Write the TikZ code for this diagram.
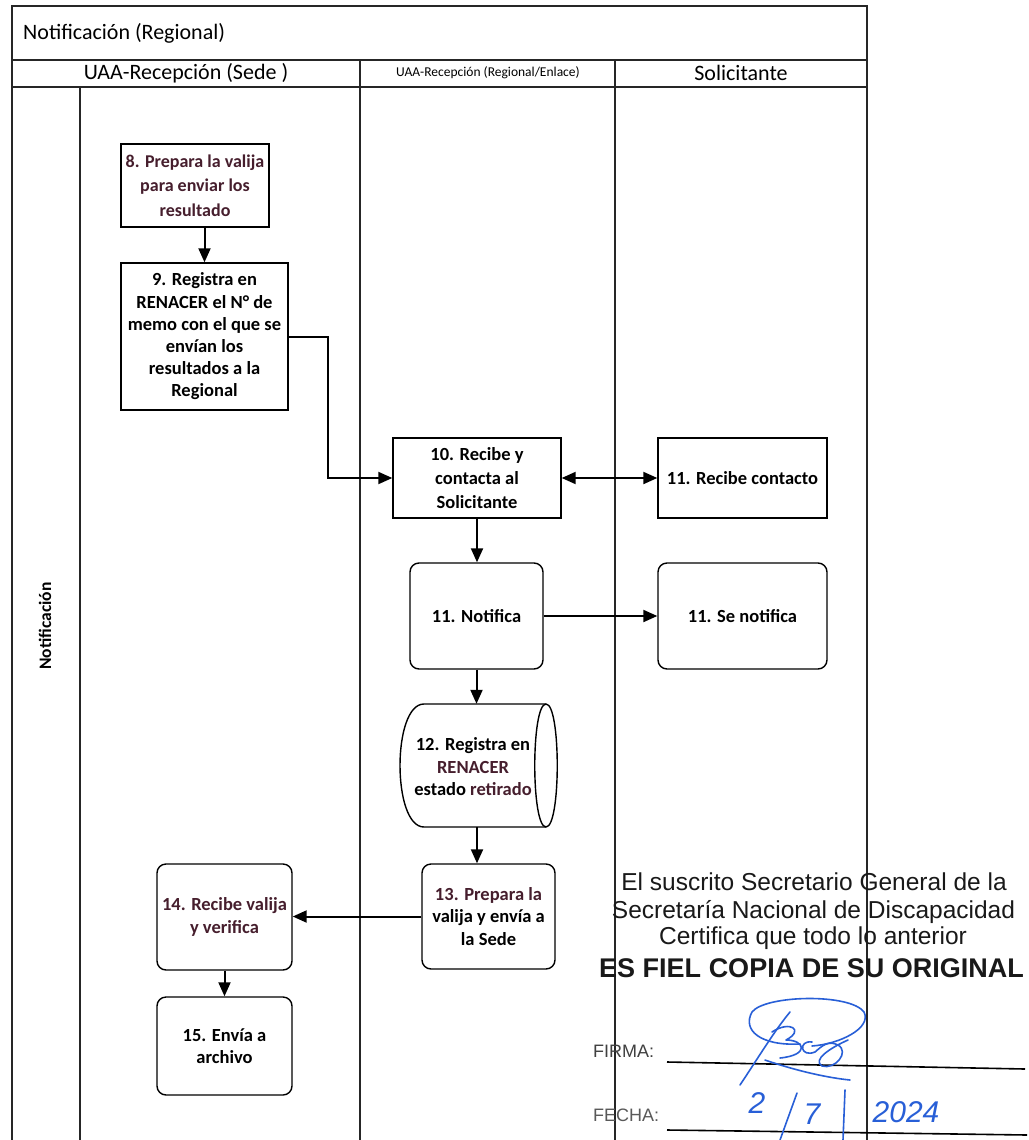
\documentclass[tikz,border=0pt]{standalone}
\usepackage{fontspec}
\setmainfont{Carlito}
\newfontfamily\arialf{Liberation Sans}
\usetikzlibrary{arrows.meta,calc}
\definecolor{mar}{RGB}{70,30,45}
\definecolor{sigblue}{RGB}{40,95,215}
\definecolor{stampgray}{RGB}{25,25,25}
\begin{document}
\begin{tikzpicture}[x=1pt,y=-1pt,
  frame/.style={line width=1.4pt, draw=black!85},
  box/.style={draw, line width=1.4pt, align=center, inner sep=0pt, font=\bfseries\fontsize{18.5}{23}\selectfont},
  rbox/.style={box, rounded corners=9pt},
  arr/.style={line width=2pt, -{Triangle[length=14pt,width=12pt]}},
  darr/.style={line width=2pt, {Triangle[length=14pt,width=12pt]}-{Triangle[length=14pt,width=12pt]}},
  hdr/.style={inner sep=0pt, font=\fontsize{22}{26}\selectfont},
  stamp/.style={inner sep=0pt, text=stampgray, font=\arialf\fontsize{24.5}{28}\selectfont},
  sig/.style={draw=sigblue, line width=1.6pt, line cap=round, line join=round}
]
\useasboundingbox (0,0) rectangle (1028,1140);
\fill[white] (0,0) rectangle (1028,1140);

% frame and lanes
\draw[frame] (12,1140) -- (12,6) -- (867,6) -- (867,1140);
\draw[frame] (12,60) -- (867,60);
\draw[frame] (12,87) -- (867,87);
\draw[frame] (360,60) -- (360,1140);
\draw[frame] (615,60) -- (615,1140);
\draw[frame] (80,87) -- (80,1140);

\node[hdr, anchor=west] (title) at (23,33) {Notificación (Regional)};
\node[hdr] (h1) at (186,73) {UAA-Recepción (Sede )};
\node[hdr, font=\fontsize{13.5}{16}\selectfont] (h2) at (488,73) {UAA-Recepción (Regional/Enlace)};
\node[hdr] (h3) at (741,73) {Solicitante};
\node[rotate=90, inner sep=0pt, font=\bfseries\fontsize{17.5}{20}\selectfont] (ph) at (45,626) {Notificación};

% boxes
\node[box, text=mar, minimum width=148pt, minimum height=83pt, font=\bfseries\fontsize{18}{24.5}\selectfont] (b8) at (195,185.5) {8. Prepara la valija\\para enviar los\\resultado};
\node[box, minimum width=167pt, minimum height=147pt, font=\bfseries\fontsize{18.5}{22.2}\selectfont] (b9) at (204.5,336.5) {9. Registra en\\RENACER el N° de\\memo con el que se\\envían los\\resultados a la\\Regional};
\node[box, minimum width=168pt, minimum height=80pt, font=\bfseries\fontsize{18.5}{24}\selectfont] (b10) at (477,478) {10. Recibe y\\contacta al\\Solicitante};
\node[box, minimum width=169pt, minimum height=80pt] (b11a) at (742.5,478) {11. Recibe contacto};
\node[rbox, minimum width=133pt, minimum height=106pt] (bN) at (476.5,616) {11. Notifica};
\node[rbox, minimum width=169pt, minimum height=106pt] (bS) at (742.5,616) {11. Se notifica};

% storage shape 12
\draw[line width=1.4pt] (424,704) -- (546,704)
  .. controls (561,704) and (561,827) .. (546,827) -- (424,827)
  .. controls (392,827) and (392,704) .. (424,704) -- cycle;
\draw[line width=1.4pt] (546,704) .. controls (531,704) and (531,827) .. (546,827);
\node[inner sep=0pt, minimum width=130pt, minimum height=123pt] (b12) at (477,765.5) {};
\node[inner sep=0pt, align=center, font=\bfseries\fontsize{18.5}{22.5}\selectfont] (t12) at (473,767) {12. Registra en\\\textcolor{mar}{RENACER}\\estado \textcolor{mar}{retirado}};

\node[rbox, minimum width=133pt, minimum height=105pt, font=\bfseries\fontsize{18.5}{22.5}\selectfont] (b13) at (488.5,916.5) {\textcolor{mar}{13. Prepara la}\\valija y envía a\\la Sede};
\node[rbox, text=mar, minimum width=135pt, minimum height=106pt, font=\bfseries\fontsize{18.5}{22.5}\selectfont] (b14) at (224.5,917) {14. Recibe valija\\y verifica};
\node[rbox, minimum width=135pt, minimum height=98pt, font=\bfseries\fontsize{18.5}{22.5}\selectfont] (b15) at (224.5,1046) {15. Envía a\\archivo};

% connectors
\draw[arr] (b8.south -| b9.north) -- (b9.north);
\draw[arr] (b9.east) -- ([xshift=39pt]b9.east) |- (b10.west);
\draw[darr] (b10.east) -- (b11a.west);
\draw[arr] (b10.south) -- (b10.south |- bN.north);
\draw[arr] (bN.east) -- (bN.east -| bS.west);
\draw[arr] (bN.south) -- (bN.south |- b12.north);
\draw[arr] (b12.south) -- (b12.south |- b13.north);
\draw[arr] (b13.west) -- (b13.west -| b14.east);
\draw[arr] (b14.south) -- (b15.north);

% certification stamp
\node[stamp] (s1) at (814,882) {El suscrito Secretario General de la};
\node[stamp] (s2) at (813.5,912) {Secretaría Nacional de Discapacidad};
\node[stamp] (s3) at (813,938) {Certifica que todo lo anterior};
\node[stamp, font=\arialf\bfseries\fontsize{27}{30}\selectfont] (s4) at (811.5,968) {ES FIEL COPIA DE SU ORIGINAL};
\node[stamp, text=black!75, anchor=west, font=\arialf\fontsize{18}{20}\selectfont] (firma) at (593,1051) {FIRMA:};
\node[stamp, text=black!65, anchor=west, font=\arialf\fontsize{18}{20}\selectfont] (fecha) at (593,1115) {FECHA:};
\coordinate (fl1) at (667,1062);
\coordinate (fl2) at (1025,1069);
\coordinate (dl1) at (667,1130);
\coordinate (dl2) at (1027,1135);
\draw[line width=1.6pt] (fl1) -- (fl2);
\draw[line width=1.6pt] (dl1) -- (dl2);

% signature
\draw[sig] (800,1044) .. controls (760,1046) and (742,1030) .. (752,1012)
  .. controls (765,995) and (850,993) .. (864,1012)
  .. controls (872,1028) and (840,1044) .. (812,1046);
\draw[sig] (740,1085) .. controls (760,1055) and (775,1030) .. (790,1012);
\draw[sig] (772,1032) .. controls (790,1020) and (805,1030) .. (786,1040)
  .. controls (805,1040) and (810,1055) .. (780,1058);
\draw[sig] (812,1042) .. controls (798,1040) and (800,1058) .. (815,1052)
  .. controls (822,1046) and (828,1040) .. (838,1045)
  .. controls (850,1052) and (835,1070) .. (822,1066)
  .. controls (812,1060) and (830,1048) .. (848,1040);
\draw[sig] (765,1060) .. controls (800,1072) and (830,1078) .. (850,1080);
% handwritten date
\node[inner sep=0pt, text=sigblue, font=\arialf\itshape\fontsize{30}{32}\selectfont] (d1) at (757,1103) {2};
\node[inner sep=0pt, text=sigblue, font=\arialf\itshape\fontsize{30}{32}\selectfont] (d2) at (812,1114) {7};
\node[inner sep=0pt, text=sigblue, font=\arialf\itshape\fontsize{30}{32}\selectfont] (d3) at (906,1112) {2024};
\draw[sig] (780,1140) -- (797,1093);
\draw[sig] (845,1090) -- (843,1140);
\end{tikzpicture}
\end{document}
